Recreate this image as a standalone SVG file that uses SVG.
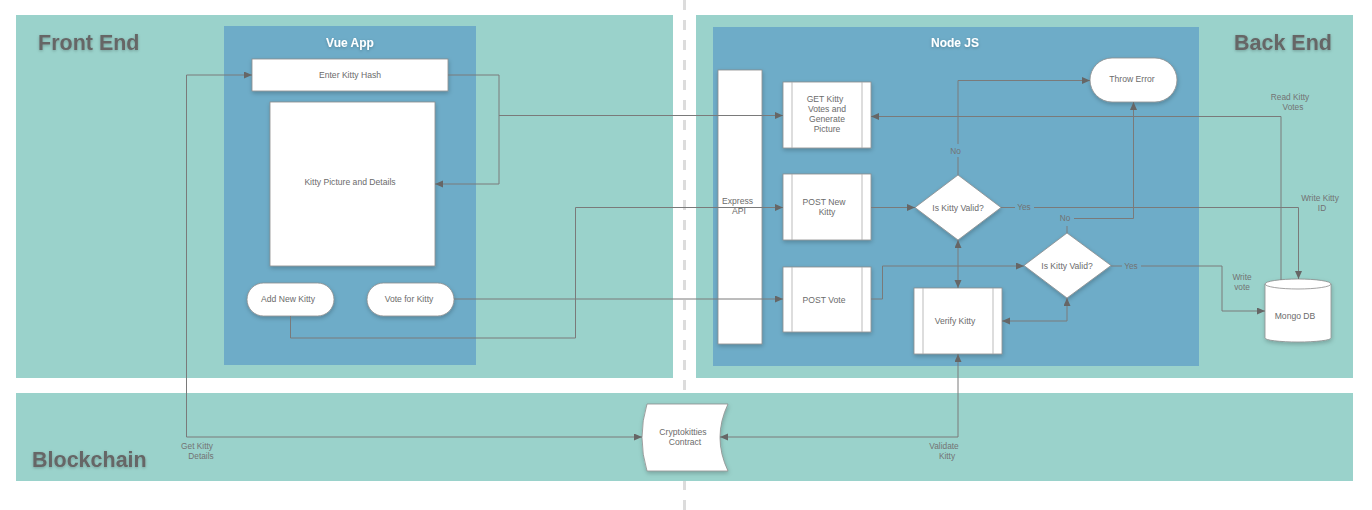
<svg xmlns="http://www.w3.org/2000/svg" width="1372" height="510" viewBox="0 0 1372 510">
<style>
.lane{fill:#9ad2cb}
.pool{fill:#6eacc8}
.title{font-family:"Liberation Sans",Arial,sans-serif;font-weight:bold;font-size:21.5px;fill:#666}
.ptitle{font-family:"Liberation Sans",Arial,sans-serif;font-weight:bold;font-size:12px;fill:#fff}
.node{fill:#fff;stroke:#8a8a8a;stroke-width:0.8}
.inner{stroke:#aaa;stroke-width:0.8;fill:none}
.t{font-family:"Liberation Sans",Arial,sans-serif;font-size:8.6px;fill:#6b6b6b;text-anchor:middle}
.lbl{font-family:"Liberation Sans",Arial,sans-serif;font-size:8.3px;fill:#737373;text-anchor:middle}
.c{fill:none;stroke:#7a7a7a;stroke-width:1}
</style>
<defs>
<filter id="sh" x="-20%" y="-20%" width="140%" height="150%">
<feDropShadow dx="0.5" dy="2" stdDeviation="2" flood-color="#000" flood-opacity="0.22"/>
</filter>
<filter id="tsh" x="-10%" y="-30%" width="120%" height="170%">
<feDropShadow dx="0" dy="1" stdDeviation="1.5" flood-color="#000" flood-opacity="0.25"/>
</filter>
<marker id="a" markerUnits="userSpaceOnUse" markerWidth="10" markerHeight="8" refX="8" refY="3.5" orient="auto-start-reverse">
<path d="M0,0 L8,3.5 L0,7 Z" fill="#666"/>
</marker>
</defs>
<rect width="1372" height="510" fill="#fff"/>
<line x1="684.5" y1="0" x2="684.5" y2="510" stroke="#dcdcdc" stroke-width="3" stroke-dasharray="10 10"/>

<g id="lane-frontend">
<rect class="lane" x="16" y="15" width="657" height="363"/>
<text class="title" x="38" y="49.5" filter="url(#tsh)">Front End</text>
</g>
<g id="lane-backend">
<rect class="lane" x="696" y="15" width="657" height="363"/>
<text class="title" x="1234" y="49.5" filter="url(#tsh)">Back End</text>
</g>
<g id="lane-blockchain">
<rect class="lane" x="16" y="393" width="1337" height="88"/>
<text class="title" x="32" y="467" filter="url(#tsh)">Blockchain</text>
</g>
<g id="pool-vue">
<rect class="pool" x="224" y="26" width="252" height="339"/>
<text class="ptitle" x="350" y="47" text-anchor="middle" filter="url(#tsh)">Vue App</text>
</g>
<g id="pool-node">
<rect class="pool" x="713" y="27" width="486" height="339"/>
<text class="ptitle" x="955" y="47" text-anchor="middle" filter="url(#tsh)">Node JS</text>
</g>

<g id="enter-hash">
<rect class="node" x="252" y="59" width="196" height="32" filter="url(#sh)"/>
<text class="t" x="350" y="77.5">Enter Kitty Hash</text>
</g>
<g id="kitty-picture">
<rect class="node" x="270" y="102" width="165" height="164" filter="url(#sh)"/>
<text class="t" x="350" y="185">Kitty Picture and Details</text>
</g>
<g id="add-kitty">
<rect class="node" x="247" y="283" width="87" height="33" rx="16.5" filter="url(#sh)"/>
<text class="t" x="288" y="302">Add New Kitty</text>
</g>
<g id="vote-kitty">
<rect class="node" x="367" y="283" width="87" height="33" rx="16.5" filter="url(#sh)"/>
<text class="t" x="409" y="302">Vote for Kitty</text>
</g>

<g id="express-api">
<rect class="node" x="718" y="70" width="44" height="274" filter="url(#sh)"/>
<text class="t" x="737.5" y="204">Express</text>
<text class="t" x="739" y="213.5">API</text>
</g>
<g id="get-kitty">
<rect class="node" x="783" y="82" width="88" height="66" filter="url(#sh)"/>
<path class="inner" d="M792,82V148M862,82V148"/>
<text class="t" x="825" y="102">GET Kitty</text>
<text class="t" x="827" y="112">Votes and</text>
<text class="t" x="827" y="122">Generate</text>
<text class="t" x="827" y="132">Picture</text>
</g>
<g id="post-new">
<rect class="node" x="783" y="174" width="88" height="66" filter="url(#sh)"/>
<path class="inner" d="M792,174V240M862,174V240"/>
<text class="t" x="824" y="204.5">POST New</text>
<text class="t" x="827" y="214.5">Kitty</text>
</g>
<g id="post-vote">
<rect class="node" x="783" y="267" width="88" height="65" filter="url(#sh)"/>
<path class="inner" d="M792,267V332M862,267V332"/>
<text class="t" x="824" y="302.5">POST Vote</text>
</g>
<g id="valid-1">
<path class="node" d="M958,175 L1001,207.5 L958,240 L915,207.5 Z" filter="url(#sh)"/>
<text class="t" x="958" y="210.5">Is Kitty Valid?</text>
</g>
<g id="throw-error">
<rect class="node" x="1090" y="58" width="87" height="44" rx="22" filter="url(#sh)"/>
<text class="t" x="1132" y="82">Throw Error</text>
</g>
<g id="valid-2">
<path class="node" d="M1067,233 L1111,265.5 L1067,298 L1024,265.5 Z" filter="url(#sh)"/>
<text class="t" x="1067" y="268.5">Is Kitty Valid?</text>
</g>
<g id="verify-kitty">
<rect class="node" x="914" y="288" width="88" height="66" filter="url(#sh)"/>
<path class="inner" d="M923,288V354M993,288V354"/>
<text class="t" x="955" y="324">Verify Kitty</text>
</g>
<g id="mongo-db">
<path class="node" d="M1265,284 A33,5 0 0 1 1331,284 V338 A33,4 0 0 1 1265,338 Z" filter="url(#sh)"/>
<path class="node" d="M1265,284 A33,5 0 0 0 1331,284" fill="none"/>
<text class="t" x="1295" y="318.5">Mongo DB</text>
</g>
<g id="crypto-contract">
<path class="node" d="M647,404 H728 Q712,437.5 728,471 H647 Q637,437.5 647,404 Z" filter="url(#sh)"/>
<text class="t" x="683" y="434.5">Cryptokitties</text>
<text class="t" x="685" y="444.5">Contract</text>
</g>

<g id="connectors">
<path class="c" d="M448,75 H499 V184 H435" marker-end="url(#a)"/>
<path class="c" d="M499,115.5 H783" marker-end="url(#a)"/>
<path class="c" d="M252,75 H186.5 V437 H642" marker-start="url(#a)" marker-end="url(#a)"/>
<path class="c" d="M290.5,316 V338 H575.5 V207.5 H783" marker-end="url(#a)"/>
<path class="c" d="M454,299 H783" marker-end="url(#a)"/>
<path class="c" d="M871,207.5 H915" marker-end="url(#a)"/>
<path class="c" d="M958,175 V157"/>
<path class="c" d="M958,144 V80.5 H1090" marker-end="url(#a)"/>
<path class="c" d="M1001,207.5 H1015"/>
<path class="c" d="M1034,207.5 H1298.5 V279" marker-end="url(#a)"/>
<path class="c" d="M958,240 V288" marker-start="url(#a)" marker-end="url(#a)"/>
<path class="c" d="M871,299 H882.5 V266 H1024" marker-end="url(#a)"/>
<path class="c" d="M1067,233 V226"/>
<path class="c" d="M1074,218.5 H1133.5 V102" marker-end="url(#a)"/>
<path class="c" d="M1111,266 H1122"/>
<path class="c" d="M1141,266 H1222 V311 H1265" marker-end="url(#a)"/>
<path class="c" d="M1067,298 V321 H1002" marker-start="url(#a)" marker-end="url(#a)"/>
<path class="c" d="M1281,280 V116.5 H871" marker-end="url(#a)"/>
<path class="c" d="M958,354 V437 H720" marker-start="url(#a)" marker-end="url(#a)"/>
<text class="lbl" x="955.5" y="153.5">No</text>
<text class="lbl" x="1024" y="210">Yes</text>
<text class="lbl" x="1065" y="221">No</text>
<text class="lbl" x="1131" y="268.5">Yes</text>
<text class="lbl" x="1290" y="99.5">Read Kitty</text>
<text class="lbl" x="1293" y="109.5">Votes</text>
<text class="lbl" x="1320" y="200.5">Write Kitty</text>
<text class="lbl" x="1322" y="210.5">ID</text>
<text class="lbl" x="1242" y="279.5">Write</text>
<text class="lbl" x="1242" y="289.5">vote</text>
<text class="lbl" x="197" y="448.5">Get Kitty</text>
<text class="lbl" x="201" y="458.5">Details</text>
<text class="lbl" x="944" y="448.5">Validate</text>
<text class="lbl" x="947" y="458.5">Kitty</text>
</g>
</svg>
